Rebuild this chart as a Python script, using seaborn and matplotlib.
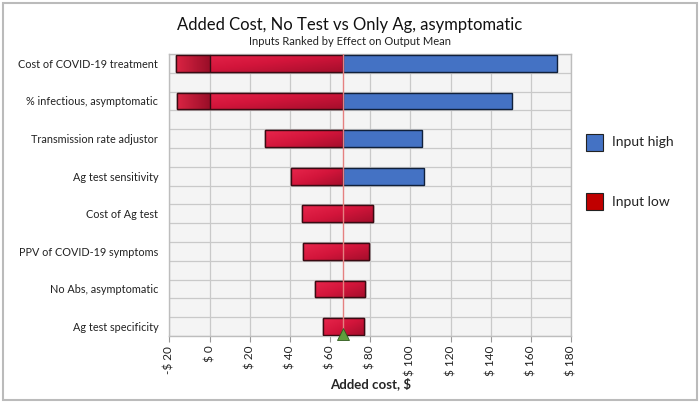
import numpy as np
import pandas as pd
import matplotlib
matplotlib.use("Agg")
import matplotlib.pyplot as plt
import seaborn as sns
from matplotlib.patches import Rectangle

# Tornado values (Added cost, $)
inputs = ["Cost of COVID-19 treatment", "% infectious, asymptomatic",
          "Transmission rate adjustor", "Ag test sensitivity", "Cost of Ag test",
          "PPV of COVID-19 symptoms", "No Abs, asymptomatic", "Ag test specificity"]
low_start = [-16.9, -16.2, 27.6, 40.4, 46.2, 46.5, 52.3, 56.6]
low_end = [66.6, 66.6, 66.6, 66.6, 81.5, 79.4, 77.5, 77.0]
high_end = [173.0, 150.6, 105.8, 106.8, np.nan, np.nan, np.nan, np.nan]
output_mean = 66.6
x_ticks = [-20, 0, 20, 40, 60, 80, 100, 120, 140, 160, 180]
x_tick_labels = ["-$ 20", "$ 0", "$ 20", "$ 40", "$ 60", "$ 80", "$ 100",
                 "$ 120", "$ 140", "$ 160", "$ 180"]

RED = "#D3153B"
BLUE = "#4472C4"

sns.set_theme(style="white")
plt.rcParams["font.family"] = ["Lato", "DejaVu Sans"]

df = pd.DataFrame({"Input": inputs, "low_start": low_start, "low_end": low_end,
                   "high_end": high_end})
df["low_w"] = df["low_end"] - df["low_start"]
df["high_w"] = df["high_end"] - output_mean

fig = plt.figure(figsize=(7, 4.03), dpi=100)
ax = fig.add_axes([0.2421, 0.1663, 0.5736, 0.6998])
ax.set_facecolor("#F4F4F4")

# grid first so bars sit on top
for x in x_ticks:
    ax.axvline(x, color="#C9C9C9", lw=0.9, zorder=0)
for y in np.arange(-0.25, 7.3, 0.5):
    ax.axhline(y, color="#C9C9C9", lw=0.9, zorder=0)

# red (input low) bars, shifted to their start value
sns.barplot(data=df, x="low_w", y="Input", color=RED, width=0.45,
            saturation=1, edgecolor="#3A0A12", linewidth=1.0, ax=ax, zorder=2)
red_patches = list(ax.patches)
for p, start in zip(red_patches, df["low_start"]):
    p.set_x(start)

# gradient shading on red bars (lighter top-left, darker bottom-right)
gx, gy = np.meshgrid(np.linspace(0, 1, 64), np.linspace(0, 1, 16))
shade = 0.55 * gx + 0.45 * gy
cmap = matplotlib.colors.LinearSegmentedColormap.from_list(
    "redgrad", ["#E8264C", "#D3153B", "#A60E2C"])
neg_cmap = matplotlib.colors.LinearSegmentedColormap.from_list(
    "neg", ["#DA2443", "#9A0E28"])
for p in red_patches:
    x0, w = p.get_x(), p.get_width()
    y0, h = p.get_y(), p.get_height()
    im = ax.imshow(shade, cmap=cmap, extent=[x0, x0 + w, y0 + h, y0],
                   aspect="auto", zorder=2.5)
    im.set_clip_path(p)
    # darker part left of $0
    if x0 < 0:
        seg = ax.imshow(np.linspace(0, 1, 32)[None, :], cmap=neg_cmap,
                        extent=[x0, 0, y0 + h, y0], aspect="auto", zorder=2.6)
        seg.set_clip_path(p)
        ax.plot([0, 0], [y0, y0 + h], color="#3A0A12", lw=1.0, zorder=2.8)
    ax.add_patch(Rectangle((x0, y0), w, h, fill=False, edgecolor="#3A0A12",
                           lw=1.0, zorder=3))

# blue (input high) bars from the mean
blue = df.dropna(subset=["high_w"])
ypos = [inputs.index(n) for n in blue["Input"]]
ax.barh(ypos, blue["high_w"], left=output_mean, height=0.45, color=BLUE,
        edgecolor="#10203A", linewidth=1.0, zorder=3)

ax.axvline(output_mean, color="#E58080", lw=1.0, zorder=4)
ax.plot([output_mean], [7.19], marker="^", markersize=8, color="#5E9E3C",
        markeredgecolor="#2F5A1C", markeredgewidth=0.6, clip_on=False, zorder=5)

ax.set_xlim(-20, 180)
ax.set_ylim(7.25, -0.25)
ax.set_xticks(x_ticks)
ax.set_xticklabels(x_tick_labels, rotation=90, fontsize=8.5, color="#222222")
ax.set_yticks(range(len(inputs)))
ax.set_yticklabels(inputs, fontsize=7.8, color="#222222")
ax.tick_params(axis="x", length=4, width=0.8, color="#999999", pad=3, bottom=True)
ax.tick_params(axis="y", length=0, pad=8)
ax.set_ylabel("")
ax.set_xlabel("Added cost, $", fontsize=9.5, fontweight="bold", labelpad=1)
for s in ax.spines.values():
    s.set_color("#BDBDBD")
    s.set_linewidth(1.0)

fig.text(0.5, 0.937, "Added Cost, No Test vs Only Ag, asymptomatic",
         ha="center", va="center", fontsize=12, color="#111111")
fig.text(0.5, 0.898, "Inputs Ranked by Effect on Output Mean",
         ha="center", va="center", fontsize=8, color="#222222")

# legend boxes
fig.patches.append(Rectangle((586 / 700, 1 - 151 / 403), 17 / 700, 17 / 403,
                             transform=fig.transFigure, facecolor=BLUE,
                             edgecolor="#222222", lw=0.8))
fig.patches.append(Rectangle((586 / 700, 1 - 210 / 403), 17 / 700, 17 / 403,
                             transform=fig.transFigure, facecolor="#C00000",
                             edgecolor="#222222", lw=0.8))
fig.text(612 / 700, 1 - 142 / 403, "Input high", ha="left", va="center",
         fontsize=10, color="#222222")
fig.text(612 / 700, 1 - 202 / 403, "Input low", ha="left", va="center",
         fontsize=10, color="#222222")

# outer frame
fig.patches.append(Rectangle((3 / 700, 3 / 403), 694 / 700, 397 / 403,
                             transform=fig.transFigure, fill=False,
                             edgecolor="#BBBBBB", lw=1.5))

fig.savefig("out.png", dpi=100)
